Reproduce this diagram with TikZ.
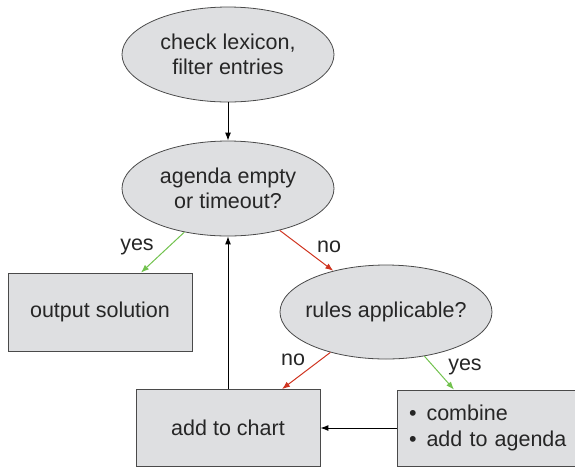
\documentclass[tikz,border=0pt]{standalone}
\usepackage{fontspec}
\setmainfont{Liberation Sans}
\usetikzlibrary{shapes.geometric,arrows.meta,calc}

\definecolor{boxfill}{HTML}{DEDFE1}
\definecolor{boxline}{HTML}{4A4A4A}
\definecolor{txt}{HTML}{262626}
\definecolor{yesgreen}{HTML}{72C24E}
\definecolor{nored}{HTML}{CF3420}

\tikzset{
  every node/.style={text=txt, font=\fontsize{21.5}{25.5}\selectfont},
  shape base/.style={draw=boxline, fill=boxfill, line width=0.8pt, inner sep=0pt, align=center},
  decision/.style={shape base, ellipse, minimum width=212pt, minimum height=95pt},
  action/.style={shape base, rectangle, minimum width=184pt, minimum height=77pt},
  flow/.style={line width=1pt, -{Latex[length=8pt,width=6pt]}},
  yesflow/.style={flow, draw=yesgreen},
  noflow/.style={flow, draw=nored},
  branch/.style={inner sep=0pt, font=\fontsize{21.5}{24}\selectfont}
}

\begin{document}
\begin{tikzpicture}[x=1pt, y=-1pt]
  \useasboundingbox (0,0) rectangle (575,467);
  \clip (0,0) rectangle (575,467);

  % decision ellipses
  \node[decision] (lex)    at (228,54.5)  {check lexicon,\\filter entries};
  \node[decision] (agenda) at (228,188.5) {agenda empty\\or timeout?};
  \node[decision, minimum height=94pt, inner xsep=-12pt] (rules) at (386,312) {rules applicable?};

  % action boxes
  \node[action, minimum height=78pt] (out) at (100,312) {output solution};
  \node[action] (chart) at (228,428) {add to chart};
  \node[action, minimum height=76pt, align=left, text width=162pt, inner xsep=12pt]
    (comb) at (490,428)
    {\fontsize{21.5}{26}\selectfont\textbullet\hspace{10pt}combine\\\textbullet\hspace{10pt}add to agenda};

  % main flow
  \draw[flow, draw=black] (lex.south) -- (agenda.north);
  \draw[flow, draw=black] (chart.north) -- (agenda.south);
  \draw[flow, draw=black] (comb.west) -- (chart.east);

  % branches
  \draw[yesflow] (agenda.-135) -- ([xshift=41pt]out.north);
  \draw[noflow]  (agenda.-39)  -- (rules.142);
  \draw[noflow]  (rules.-144)  -- ([xshift=54pt]chart.north);
  \draw[yesflow] (rules.-49)   -- ([xshift=-36pt]comb.north);

  % branch labels
  \node[branch] (yes1) at (137,247) {yes};
  \node[branch] (no1)  at (329,247) {no};
  \node[branch] (no2)  at (293,360) {no};
  \node[branch] (yes2) at (465,367) {yes};
\end{tikzpicture}
\end{document}
